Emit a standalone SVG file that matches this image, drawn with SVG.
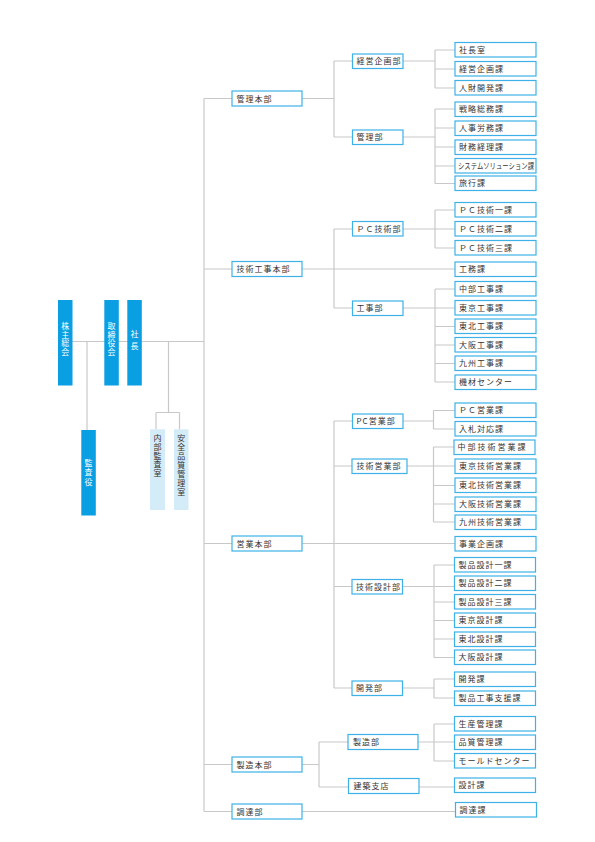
<svg xmlns="http://www.w3.org/2000/svg" width="595" height="842" viewBox="0 0 595 842">
<style>
.b{fill:#fff;stroke:#3db1e8;stroke-width:1.2}
.d{fill:#0a9fe3}
.l{fill:#d4ebf8}
.t{font-family:"Noto Sans CJK JP","Noto Sans",sans-serif;font-size:8px;fill:#333;letter-spacing:1px}
.v{font-family:"Noto Sans CJK JP","Noto Sans",sans-serif;font-size:8px;writing-mode:vertical-rl;text-orientation:upright}
.w{fill:#fff}
.k{fill:#333}
#conn path{stroke:#c8c8c8;stroke-width:1.2;fill:none}
</style>
<rect width="595" height="842" fill="#fff"/>
<g id="conn">
<path d="M204 98.5V811.5M72 341.5H204"/>
<path d="M204 98.5H232M204 269H232M204 543.5H232M204 764.5H232M204 811.5H232"/>
<path d="M87 341.5V430M168.5 341.5V412.5M156 412.5H179.5M156 412.5V429.3M179.5 412.5V429.3"/>
<path d="M302 98.5H334M334 61V137M334 61H352.5M334 137H352.5"/>
<path d="M403 61H435M435 50V88M435 50H455M435 69H455M435 88H455"/>
<path d="M403 137H435M435 109V183.5M435 109H455M435 128H455M435 147H455M435 166H455M435 183.5H455"/>
<path d="M302 269H455M334 229V308M334 229H352.5M334 308H352.5"/>
<path d="M403 229H455M435 210V248M435 210H455M435 248H455"/>
<path d="M403 308H455M435 289V382M435 289H455M435 326.5H455M435 345H455M435 363.5H455M435 382H455"/>
<path d="M302 543.5H455M334 421V688M334 421H352.5M334 466H352.5M334 586.5H352.5M334 688H352.5"/>
<path d="M402.5 421H433.5M433.5 410.5V429M433.5 410.5H455M433.5 429H455"/>
<path d="M407 466H455M433.5 447V522M433.5 447H454M433.5 485.5H455M433.5 504H455M433.5 522H455"/>
<path d="M402.5 586.5H455M434 565V657.5M434 565H455M434 602H455M434 620.5H455M434 639H455M434 657.5H455"/>
<path d="M402.5 688H434M434 679V698M434 679H455M434 698H455"/>
<path d="M302 764.5H319M319 742V787M319 742H348M319 787H348.5"/>
<path d="M418 742H455M434 724V761M434 724H455M434 761H455"/>
<path d="M419 787H455M302 811.5H455.5"/>
</g>
<g id="n_kabunushi"><rect class="d" x="58" y="300" width="14.5" height="85.5"/><text class="v w" x="65.2" y="322" style="letter-spacing:0.7px">株主総会</text></g>
<g id="n_torishimariyaku"><rect class="d" x="104.3" y="300" width="14.5" height="85.5"/><text class="v w" x="111.5" y="322" style="letter-spacing:0.7px">取締役会</text></g>
<g id="n_shacho"><rect class="d" x="127.3" y="300" width="14.5" height="85.5"/><text class="v w" x="134.5" y="330" style="letter-spacing:3.7px">社長</text></g>
<g id="n_kansayaku"><rect class="d" x="81.3" y="430" width="14.5" height="85.5"/><text class="v w" x="88.5" y="459" style="letter-spacing:1.3px">監査役</text></g>
<g id="n_naibu"><rect class="l" x="150" y="429.3" width="15" height="80.7"/><text class="v k" x="157.5" y="434" style="letter-spacing:0.8px">内部監査室</text></g>
<g id="n_anzen"><rect class="l" x="174" y="429.3" width="14.5" height="80.7"/><text class="v k" x="181.2" y="434" style="letter-spacing:0.95px">安全品質管理室</text></g>

<g id="n_kanri_honbu"><rect class="b" x="232" y="91" width="70" height="15"/><text class="t" x="236.5" y="101.5">管理本部</text></g>
<g id="n_gijutsu_honbu"><rect class="b" x="232" y="261.5" width="70" height="15"/><text class="t" x="236.5" y="272">技術工事本部</text></g>
<g id="n_eigyo_honbu"><rect class="b" x="232" y="536" width="70" height="15"/><text class="t" x="236.5" y="546.5">営業本部</text></g>
<g id="n_seizo_honbu"><rect class="b" x="232" y="757" width="70" height="15"/><text class="t" x="236.5" y="767.5">製造本部</text></g>
<g id="n_chotatsu_bu"><rect class="b" x="232" y="804" width="70" height="15"/><text class="t" x="236.5" y="814.5">調達部</text></g>

<g id="n_keiei_bu"><rect class="b" x="352.5" y="54" width="50.5" height="14.5"/><text class="t" x="356.5" y="64.3">経営企画部</text></g>
<g id="n_kanri_bu"><rect class="b" x="352.5" y="130" width="50.5" height="14.5"/><text class="t" x="356.5" y="140.3">管理部</text></g>
<g id="n_pc_gijutsu_bu"><rect class="b" x="352.5" y="221.5" width="50.5" height="14.5"/><text class="t" x="356.5" y="231.8">ＰＣ技術部</text></g>
<g id="n_koji_bu"><rect class="b" x="352.5" y="301" width="50.5" height="14.5"/><text class="t" x="356.5" y="311.3">工事部</text></g>
<g id="n_pc_eigyo_bu"><rect class="b" x="352.5" y="414" width="50.5" height="14.5"/><text class="t" x="356.5" y="424.3">PC営業部</text></g>
<g id="n_gijutsu_eigyo_bu"><rect class="b" x="352" y="459" width="55" height="14.5"/><text class="t" x="356.5" y="469.3">技術営業部</text></g>
<g id="n_gijutsu_sekkei_bu"><rect class="b" x="352" y="579.5" width="50.5" height="14.5"/><text class="t" x="356" y="589.8">技術設計部</text></g>
<g id="n_kaihatsu_bu"><rect class="b" x="352" y="681" width="50.5" height="14.5"/><text class="t" x="356" y="691.3">開発部</text></g>
<g id="n_seizo_bu"><rect class="b" x="348" y="734.5" width="70" height="15"/><text class="t" x="353" y="745">製造部</text></g>
<g id="n_kenchiku"><rect class="b" x="348.5" y="778.5" width="70.5" height="15"/><text class="t" x="353.5" y="789">建築支店</text></g>

<g id="k01"><rect class="b" x="455" y="42.5" width="81" height="14.5"/><text class="t" x="459" y="52.8">社長室</text></g>
<g id="k02"><rect class="b" x="455" y="61.5" width="81" height="14.5"/><text class="t" x="459" y="71.8">経営企画課</text></g>
<g id="k03"><rect class="b" x="455" y="80.5" width="81" height="14.5"/><text class="t" x="459" y="90.8">人財開発課</text></g>
<g id="k04"><rect class="b" x="455" y="102" width="81" height="14.5"/><text class="t" x="459" y="112.3">戦略総務課</text></g>
<g id="k05"><rect class="b" x="455" y="121" width="81" height="14.5"/><text class="t" x="459" y="131.3">人事労務課</text></g>
<g id="k06"><rect class="b" x="455" y="140" width="81" height="14.5"/><text class="t" x="459" y="150.3">財務経理課</text></g>
<g id="k07"><rect class="b" x="455" y="158.5" width="81" height="14.5"/><text class="t" x="458" y="168.8" textLength="76" lengthAdjust="spacingAndGlyphs" style="letter-spacing:0">システムソリューション課</text></g>
<g id="k08"><rect class="b" x="455" y="176" width="81" height="14.5"/><text class="t" x="459" y="186.3">旅行課</text></g>
<g id="k09"><rect class="b" x="455" y="202.5" width="81" height="14.5"/><text class="t" x="459" y="212.8">ＰＣ技術一課</text></g>
<g id="k10"><rect class="b" x="455" y="221.5" width="81" height="14.5"/><text class="t" x="459" y="231.8">ＰＣ技術二課</text></g>
<g id="k11"><rect class="b" x="455" y="240.5" width="81" height="14.5"/><text class="t" x="459" y="250.8">ＰＣ技術三課</text></g>
<g id="k12"><rect class="b" x="455" y="262" width="81" height="14.5"/><text class="t" x="459" y="272.3">工務課</text></g>
<g id="k13"><rect class="b" x="455" y="281.5" width="81" height="14.5"/><text class="t" x="459" y="291.8">中部工事課</text></g>
<g id="k14"><rect class="b" x="455" y="300.5" width="81" height="14.5"/><text class="t" x="459" y="310.8">東京工事課</text></g>
<g id="k15"><rect class="b" x="455" y="319" width="81" height="14.5"/><text class="t" x="459" y="329.3">東北工事課</text></g>
<g id="k16"><rect class="b" x="455" y="337.5" width="81" height="14.5"/><text class="t" x="459" y="347.8">大阪工事課</text></g>
<g id="k17"><rect class="b" x="455" y="356" width="81" height="14.5"/><text class="t" x="459" y="366.3">九州工事課</text></g>
<g id="k18"><rect class="b" x="455" y="375" width="81" height="14.5"/><text class="t" x="459" y="385.3">機材センター</text></g>
<g id="k19"><rect class="b" x="455" y="403" width="81" height="14.5"/><text class="t" x="459" y="413.3">ＰＣ営業課</text></g>
<g id="k20"><rect class="b" x="455" y="421.5" width="81" height="14.5"/><text class="t" x="459" y="431.8">入札対応課</text></g>
<g id="k21"><rect class="b" x="454" y="440" width="81" height="14.5"/><text class="t" x="457.5" y="450.3" style="letter-spacing:2px">中部技術営業課</text></g>
<g id="k22"><rect class="b" x="455" y="459" width="81" height="14.5"/><text class="t" x="459" y="469.3">東京技術営業課</text></g>
<g id="k23"><rect class="b" x="455" y="478" width="81" height="14.5"/><text class="t" x="459" y="488.3">東北技術営業課</text></g>
<g id="k24"><rect class="b" x="455" y="497" width="81" height="14.5"/><text class="t" x="459" y="507.3">大阪技術営業課</text></g>
<g id="k25"><rect class="b" x="455" y="515" width="81" height="14.5"/><text class="t" x="459" y="525.3">九州技術営業課</text></g>
<g id="k26"><rect class="b" x="455" y="536.5" width="81" height="14.5"/><text class="t" x="459" y="546.8">事業企画課</text></g>
<g id="k27"><rect class="b" x="454.5" y="557.5" width="81" height="14.5"/><text class="t" x="458.5" y="567.8">製品設計一課</text></g>
<g id="k28"><rect class="b" x="454.5" y="576" width="81" height="14.5"/><text class="t" x="458.5" y="586.3">製品設計二課</text></g>
<g id="k29"><rect class="b" x="454.5" y="594.5" width="81" height="14.5"/><text class="t" x="458.5" y="604.8">製品設計三課</text></g>
<g id="k30"><rect class="b" x="454.5" y="613" width="81" height="14.5"/><text class="t" x="458.5" y="623.3">東京設計課</text></g>
<g id="k31"><rect class="b" x="454.5" y="632" width="81" height="14.5"/><text class="t" x="458.5" y="642.3">東北設計課</text></g>
<g id="k32"><rect class="b" x="454.5" y="650" width="81" height="14.5"/><text class="t" x="458.5" y="660.3">大阪設計課</text></g>
<g id="k33"><rect class="b" x="454.5" y="672" width="81" height="14.5"/><text class="t" x="458.5" y="682.3">開発課</text></g>
<g id="k34"><rect class="b" x="454.5" y="691" width="81" height="14.5"/><text class="t" x="458.5" y="701.3">製品工事支援課</text></g>
<g id="k35"><rect class="b" x="454.5" y="716.5" width="81" height="14.5"/><text class="t" x="458.5" y="726.8">生産管理課</text></g>
<g id="k36"><rect class="b" x="454.5" y="735" width="81" height="14.5"/><text class="t" x="458.5" y="745.3">品質管理課</text></g>
<g id="k37"><rect class="b" x="454.5" y="753.5" width="81" height="14.5"/><text class="t" x="458.5" y="763.8">モールドセンター</text></g>
<g id="k38"><rect class="b" x="454.5" y="778" width="81" height="14.5"/><text class="t" x="458.5" y="788.3">設計課</text></g>
<g id="k39"><rect class="b" x="455.5" y="802.5" width="81" height="14.5"/><text class="t" x="459.5" y="812.8">調達課</text></g>
</svg>
